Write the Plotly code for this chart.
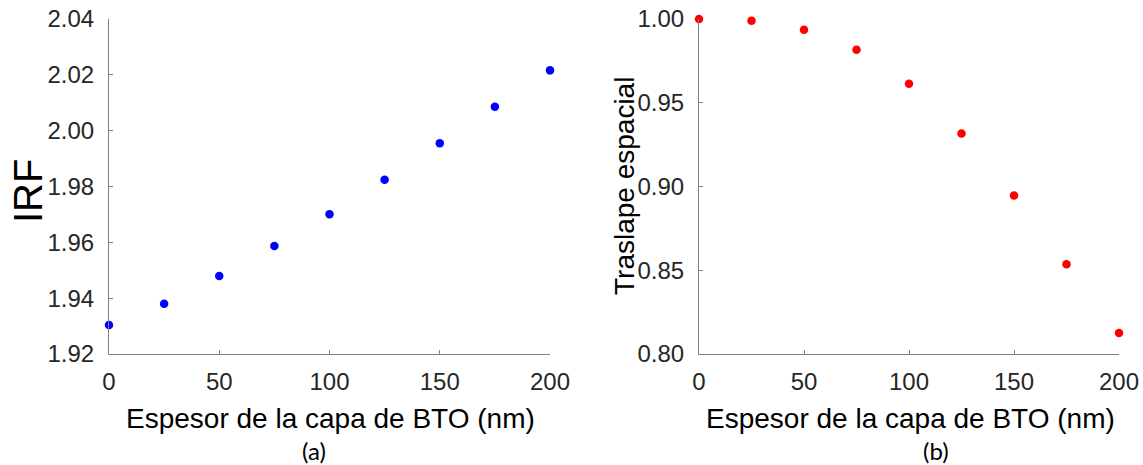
import plotly.graph_objects as go

# BTO layer thickness (nm)
thickness = [0, 25, 50, 75, 100, 125, 150, 175, 200]

# (a) effective refractive index vs thickness
irf = [1.9304, 1.9380, 1.9479, 1.9587, 1.9701, 1.9824, 1.9955, 2.0086, 2.0216]

# (b) spatial overlap vs thickness
overlap = [1.0000, 0.9990, 0.9936, 0.9817, 0.9613, 0.9317, 0.8946, 0.8536, 0.8125]

x_ticks = [0, 50, 100, 150, 200]
irf_ticks = [1.92, 1.94, 1.96, 1.98, 2.00, 2.02, 2.04]
overlap_ticks = [0.80, 0.85, 0.90, 0.95, 1.00]

W, H = 1143, 465
FONT = "Liberation Sans, Arial, sans-serif"
AXIS_GRAY = "#808080"
TEXT = "#262626"


def px_x(p):
    return p / W


def px_y(p):
    return 1 - p / H


fig = go.Figure()
fig.add_trace(go.Scatter(
    x=thickness, y=irf, mode="markers", xaxis="x", yaxis="y",
    marker=dict(color="#0000ff", size=8.5, line=dict(width=0)),
    cliponaxis=False, showlegend=False,
))
fig.add_trace(go.Scatter(
    x=thickness, y=overlap, mode="markers", xaxis="x2", yaxis="y2",
    marker=dict(color="#ff0000", size=8.5, line=dict(width=0)),
    cliponaxis=False, showlegend=False,
))

common = dict(
    automargin=False,
    showline=True, linecolor=AXIS_GRAY, linewidth=1, mirror=False,
    ticks="inside", ticklen=4, tickcolor=AXIS_GRAY, tickwidth=1,
    showgrid=False, zeroline=False,
    tickfont=dict(family=FONT, size=24, color=TEXT),
)

fig.update_layout(
    template="none",
    width=W, height=H,
    margin=dict(l=0, r=0, t=0, b=0, pad=0),
    paper_bgcolor="white", plot_bgcolor="white",
    xaxis=dict(domain=[px_x(109), px_x(550)], range=[0, 200], anchor="y",
               tickvals=x_ticks, ticklabelstandoff=6, **common),
    yaxis=dict(domain=[px_y(354), px_y(19)], range=[1.92, 2.04], anchor="x",
               tickvals=irf_ticks, tickformat=".2f", ticklabelstandoff=9, **common),
    xaxis2=dict(domain=[px_x(699), px_x(1119)], range=[0, 200], anchor="y2",
                tickvals=x_ticks, ticklabelstandoff=6, **common),
    yaxis2=dict(domain=[px_y(354), px_y(19)], range=[0.80, 1.00], anchor="x2",
                tickvals=overlap_ticks, tickformat=".2f", ticklabelstandoff=9, **common),
)

title_font = dict(family=FONT, size=28, color="#000000")
caption_font = dict(family="Lato, Carlito, sans-serif", size=24, color="#000000")

annotations = [
    dict(text="Espesor de la capa de BTO (nm)", x=px_x(330), y=px_y(418),
         font=title_font),
    dict(text="Espesor de la capa de BTO (nm)", x=px_x(910), y=px_y(418),
         font=title_font),
    dict(text="IRF", x=px_x(28), y=px_y(191), textangle=-90,
         font=dict(family=FONT, size=40, color="#000000")),
    dict(text="Traslape espacial", x=px_x(624), y=px_y(186), textangle=-90,
         font=title_font),
    dict(text="(a)", x=px_x(314), y=px_y(450), font=caption_font),
    dict(text="(b)", x=px_x(936), y=px_y(450), font=caption_font),
]
for a in annotations:
    a.update(xref="paper", yref="paper", showarrow=False,
             xanchor="center", yanchor="middle")
fig.update_layout(annotations=annotations)

fig.write_html("out.html")
